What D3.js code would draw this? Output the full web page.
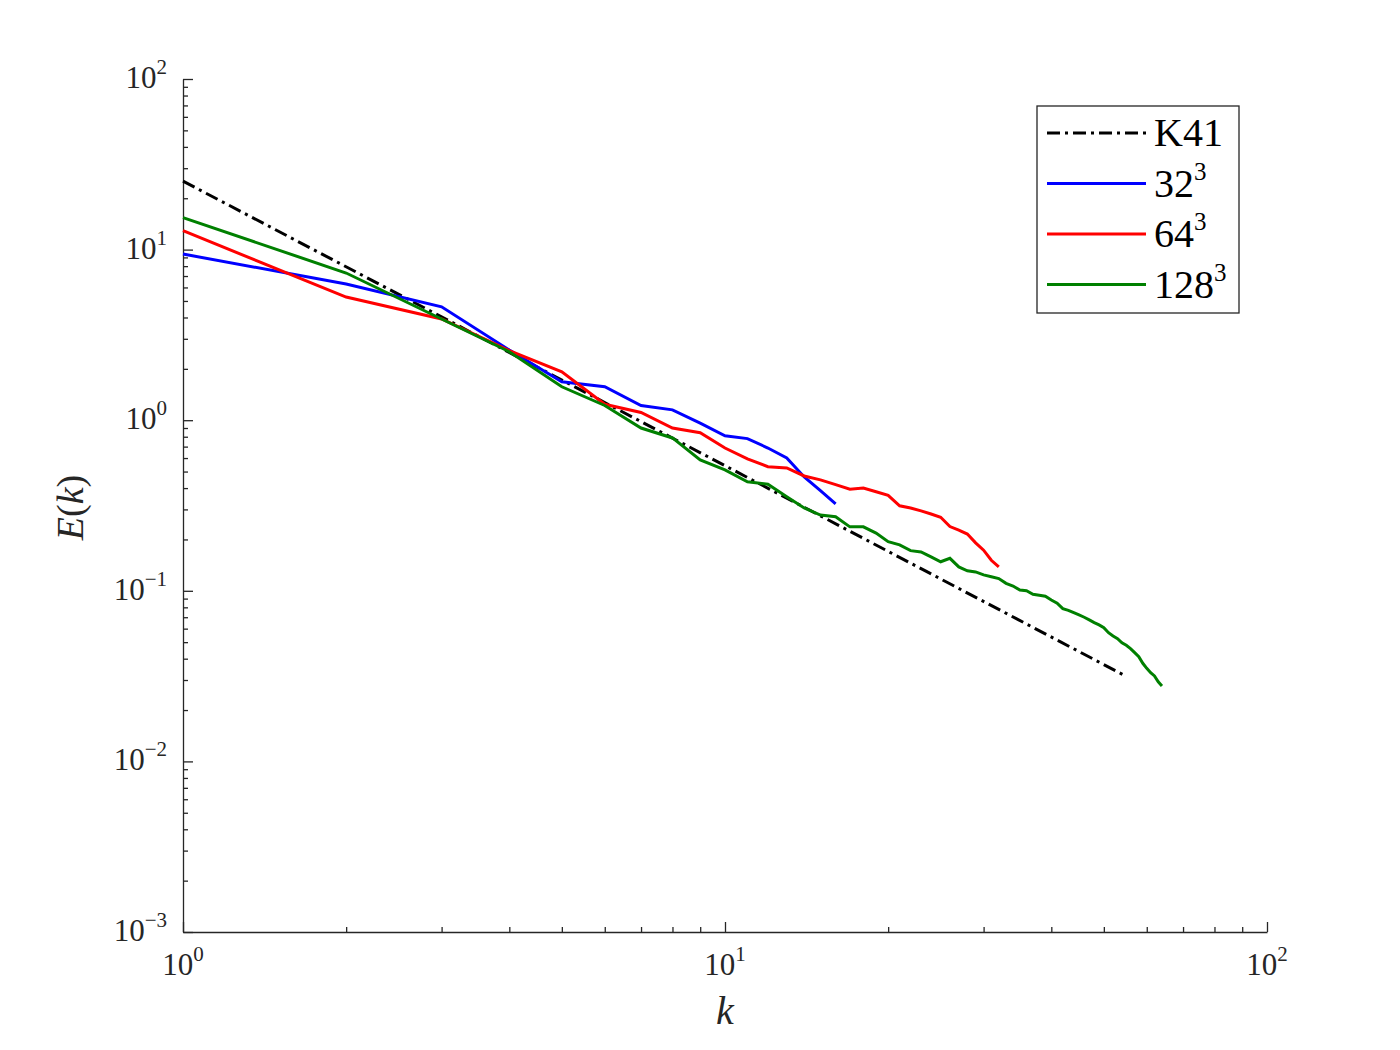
<!DOCTYPE html>
<html>
<head>
<meta charset="utf-8">
<script src="https://cdn.jsdelivr.net/npm/d3@7"></script>
<style>
  body { margin: 0; background: #fff; }
</style>
</head>
<body>
<div id="chart"></div>
<script>
// data
const kK41 = [1, 55];
const eK41 = [25.2, 0.0315];

const k32 = [1, 2, 3, 4, 5, 6, 7, 8, 9, 10, 11, 12, 13, 14, 15, 16];
const e32 = [9.42, 6.29, 4.62, 2.58, 1.68, 1.57, 1.22, 1.15, 0.96, 0.81, 0.78, 0.687, 0.60, 0.465, 0.386, 0.323];

const k64 = [1, 2, 3, 4, 5, 6, 7, 8, 9, 10, 11, 12, 13, 14, 15, 16,
  17, 18, 19, 20, 21, 22, 23, 24, 25, 26, 27, 28, 29, 30, 31, 32];
const e64 = [12.9, 5.27, 3.92, 2.56, 1.92, 1.24, 1.11, 0.90, 0.845, 0.687, 0.593, 0.534, 0.525, 0.471, 0.447, 0.419,
  0.394, 0.40, 0.381, 0.363, 0.315, 0.306, 0.294, 0.282, 0.27, 0.238, 0.227, 0.215, 0.191, 0.173, 0.151, 0.138];

const k128 = [1, 2, 3, 4, 5, 6, 7, 8, 9, 10, 11, 12, 13, 14, 15, 16,
  17, 18, 19, 20, 21, 22, 23, 24, 25, 26, 27, 28, 29, 30, 31, 32,
  33, 34, 35, 36, 37, 38, 39, 40, 41, 42, 43, 44, 45, 46, 47, 48,
  49, 50, 51, 52, 53, 54, 55, 56, 57, 58, 59, 60, 61, 62, 63, 64];
const e128 = [15.4, 7.29, 3.92, 2.52, 1.57, 1.22, 0.90, 0.787, 0.585, 0.511,
  0.436, 0.421, 0.356, 0.306, 0.278, 0.272, 0.237, 0.237, 0.218, 0.194,
  0.186, 0.172, 0.169, 0.158, 0.148, 0.155, 0.138, 0.131, 0.129, 0.124, 0.121, 0.118,
  0.1106, 0.1067, 0.101, 0.100, 0.0954, 0.0941, 0.0929, 0.0883, 0.0845, 0.0786,
  0.0768, 0.0744, 0.0722, 0.070, 0.0675, 0.0651, 0.0631, 0.0608, 0.0568, 0.0543,
  0.0524, 0.0496, 0.0479, 0.0458, 0.0434, 0.0411, 0.0376, 0.0351, 0.0331, 0.0317,
  0.0293, 0.0277];

const seriesNames = ["K41", "32", "64", "128"];
const seriesColors = ["#000000", "#0000ff", "#ff0000", "#008000"];

const xTickExps = [0, 1, 2];
const yTickExps = [-3, -2, -1, 0, 1, 2];

const serif = "'Liberation Serif', 'Times New Roman', Times, serif";

const margin = {top: 79, right: 133, bottom: 118, left: 183},
    width = 1400 - margin.left - margin.right,
    height = 1050 - margin.top - margin.bottom;

const svg = d3.select("#chart")
  .append("svg")
    .attr("width", 1400)
    .attr("height", 1050)
    .style("font-family", serif);
const g = svg.append("g")
    .attr("transform", `translate(${margin.left},${margin.top})`);

const x = d3.scaleLog().domain([1, 100]).range([0, width]);
const y = d3.scaleLog().domain([1e-3, 1e2]).range([height, 0]);

const isMajor = v => Math.abs(Math.log10(v) - Math.round(Math.log10(v))) < 1e-9;
const sup = e => String(e).replace("-", "\u2212");

// X axis
const gx = g.append("g")
  .attr("transform", `translate(0,${height})`)
  .call(d3.axisBottom(x).tickValues(x.ticks()).tickSizeOuter(0).tickSizeInner(0).tickFormat(""));
gx.select(".domain").attr("stroke", "#262626").attr("stroke-width", 1.3);
gx.selectAll(".tick line")
  .attr("stroke", "#262626").attr("stroke-width", 1.3)
  .attr("y2", d => isMajor(d) ? -10 : -5);

// Y axis
const gy = g.append("g")
  .call(d3.axisLeft(y).tickValues(y.ticks()).tickSizeOuter(0).tickSizeInner(0).tickFormat(""));
gy.select(".domain").attr("stroke", "#262626").attr("stroke-width", 1.3);
gy.selectAll(".tick line")
  .attr("stroke", "#262626").attr("stroke-width", 1.3)
  .attr("x2", d => isMajor(d) ? 10 : 5);

// tick labels with superscripts
const xl = g.append("g").selectAll("text")
  .data(xTickExps).enter().append("text")
  .attr("x", d => x(Math.pow(10, d)))
  .attr("y", height + 43)
  .attr("text-anchor", "middle")
  .attr("fill", "#262626")
  .style("font-family", serif)
  .style("font-size", "31px");
xl.append("tspan").text("10");
xl.append("tspan").attr("dy", -14).style("font-size", "21px").text(d => sup(d));

const yl = g.append("g").selectAll("text")
  .data(yTickExps).enter().append("text")
  .attr("x", -16)
  .attr("y", d => y(Math.pow(10, d)) + 9)
  .attr("text-anchor", "end")
  .attr("fill", "#262626")
  .style("font-family", serif)
  .style("font-size", "31px");
yl.append("tspan").text("10");
yl.append("tspan").attr("dy", -14).style("font-size", "21px").text(d => sup(d));

// axis labels
g.append("text")
  .attr("x", x(10))
  .attr("y", height + 92)
  .attr("text-anchor", "middle")
  .attr("fill", "#262626")
  .style("font-family", serif)
  .style("font-size", "40px").style("font-style", "italic")
  .text("k");

const yLab = g.append("text")
  .attr("transform", `translate(-100,${height / 2 + 2}) rotate(-90)`)
  .attr("text-anchor", "middle")
  .attr("fill", "#262626")
  .style("font-family", serif)
  .style("font-size", "38px");
yLab.append("tspan").style("font-style", "italic").text("E");
yLab.append("tspan").text("(");
yLab.append("tspan").style("font-style", "italic").text("k");
yLab.append("tspan").text(")");

// lines
const line = d3.line().x(d => x(d[0])).y(d => y(d[1]));
const series = [
  d3.zip(kK41, eK41),
  d3.zip(k32, e32),
  d3.zip(k64, e64),
  d3.zip(k128, e128)
];

g.selectAll(".series")
  .data(series)
  .enter().append("path")
  .attr("class", "series")
  .attr("d", line)
  .attr("fill", "none")
  .attr("stroke", (d, i) => seriesColors[i])
  .attr("stroke-width", 3)
  .attr("stroke-dasharray", (d, i) => i === 0 ? "13,5,3,5" : null);

// legend
const lg = svg.append("g").attr("transform", "translate(1037,106)");
lg.append("rect")
  .attr("width", 202).attr("height", 207)
  .attr("fill", "#fff").attr("stroke", "#262626").attr("stroke-width", 1.3);

const rows = lg.selectAll(".row")
  .data(seriesNames)
  .enter().append("g")
  .attr("transform", (d, i) => `translate(0,${27 + i * 50.5})`);
rows.append("line")
  .attr("x1", 10).attr("x2", 109)
  .attr("stroke", (d, i) => seriesColors[i])
  .attr("stroke-width", 3)
  .attr("stroke-dasharray", (d, i) => i === 0 ? "13,5,3,5" : null);
const rt = rows.append("text")
  .attr("x", 117).attr("y", 13)
  .attr("fill", "#000")
  .style("font-family", serif)
  .style("font-size", "40px");
rt.append("tspan").text(d => d);
rt.append("tspan")
  .attr("dy", -17).style("font-size", "25px")
  .text((d, i) => i === 0 ? "" : "3");
</script>
</body>
</html>
